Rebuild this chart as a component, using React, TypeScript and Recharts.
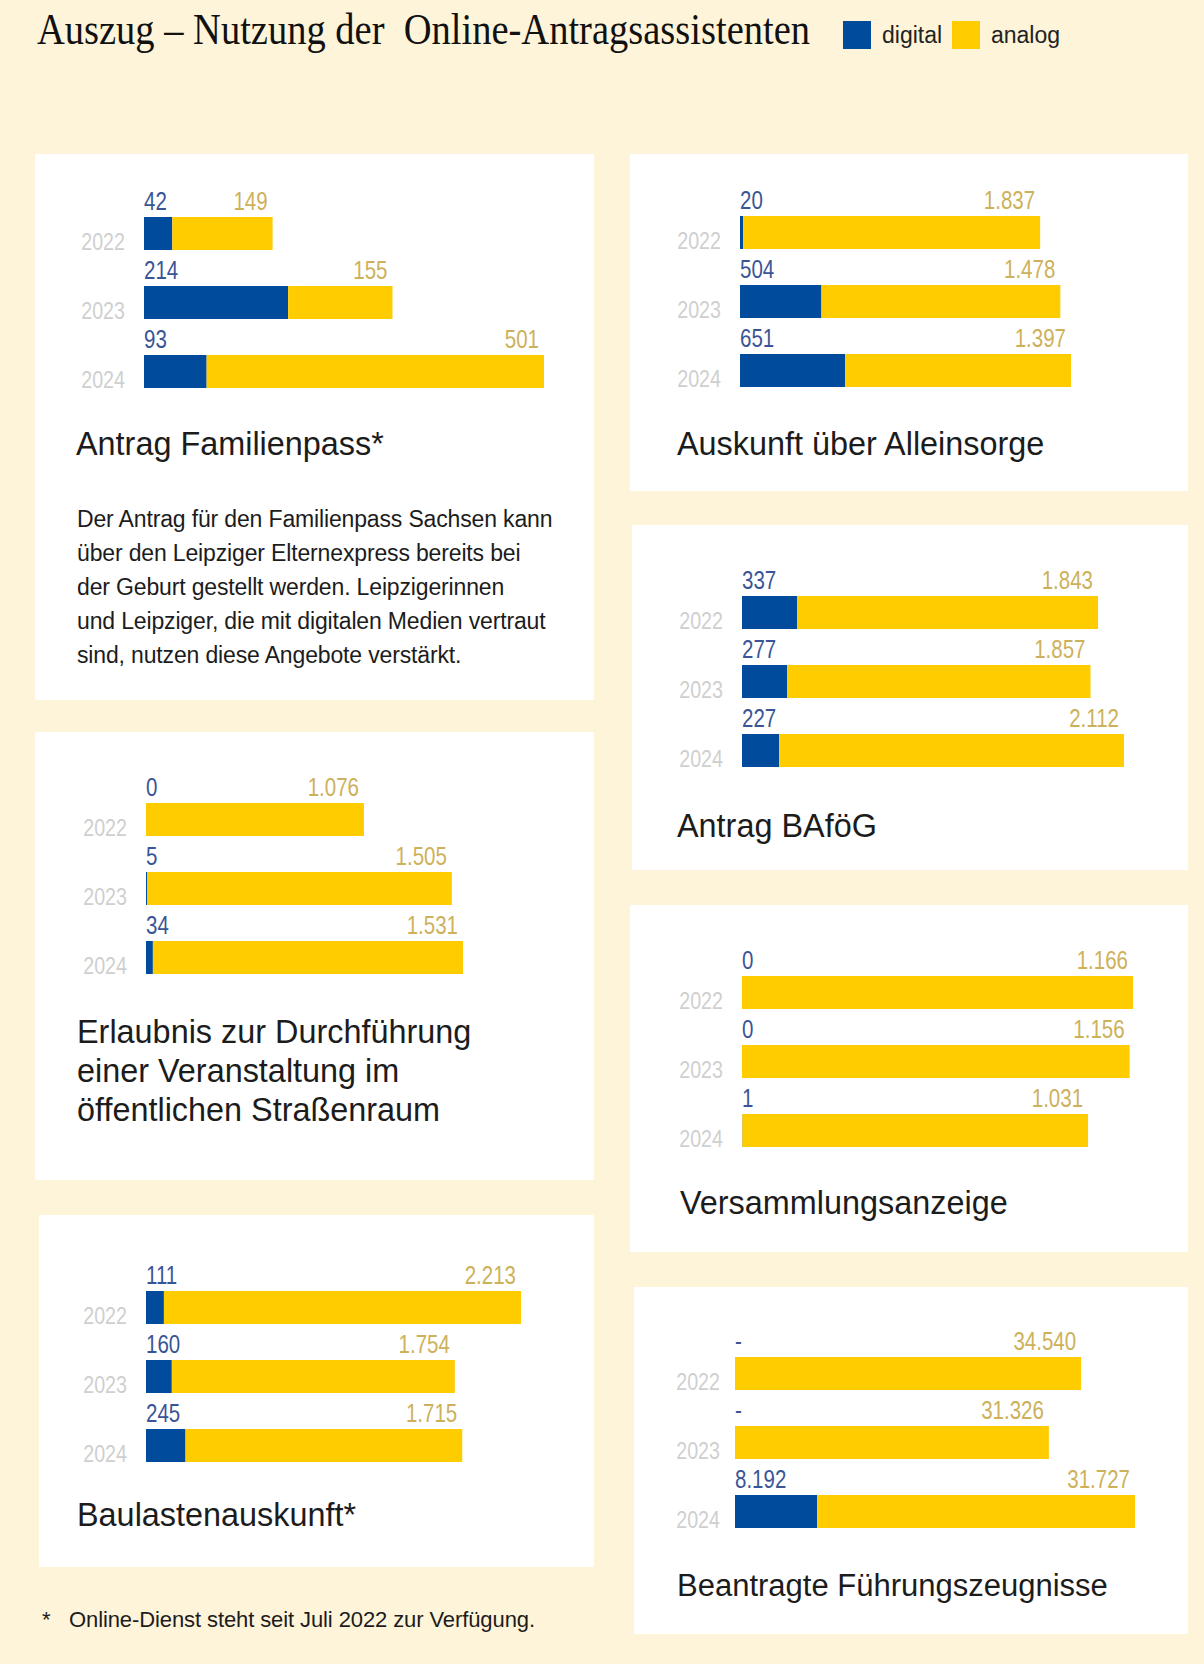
import React from "react";
import { BarChart, Bar, XAxis, YAxis, LabelList } from "recharts";

const years = ["2022", "2023", "2024"];

const familienpassDigital = [42, 214, 93];
const familienpassAnalog = [149, 155, 501];

const alleinsorgeDigital = [20, 504, 651];
const alleinsorgeAnalog = [1837, 1478, 1397];

const bafoegDigital = [337, 277, 227];
const bafoegAnalog = [1843, 1857, 2112];

const veranstaltungDigital = [0, 5, 34];
const veranstaltungAnalog = [1076, 1505, 1531];

const versammlungDigital = [0, 0, 1];
const versammlungAnalog = [1166, 1156, 1031];

const baulastenDigital = [111, 160, 245];
const baulastenAnalog = [2213, 1754, 1715];

// null = no online service yet, printed as "-"
const fuehrungDigital = [null, null, 8192];
const fuehrungAnalog = [34540, 31326, 31727];

const BLUE = "#004b9b";
const YELLOW = "#ffcc00";
const BLUE_TEXT = "#3a5596";
const GOLD_TEXT = "#cdb15a";
const YEAR_GRAY = "#cfcfcf";
const BG = "#fef4d9";
const SANS = "'Liberation Sans', Arial, sans-serif";

const BAND = 69;
const TOP_SPACE = 30;

const fmt = (v: number | null) =>
  v == null ? "-" : String(v).replace(/\B(?=(\d{3})+(?!\d))/g, ".");

function buildRows(digital: (number | null)[], analog: number[]) {
  return years.map((year, i) => ({
    year,
    digital: digital[i] ?? 0,
    analog: analog[i],
    digitalLabel: fmt(digital[i]),
    analogLabel: fmt(analog[i]),
  }));
}

const makeYearTick = (gap: number) => (props: any) => {
  const { x, y, payload } = props;
  return (
    <text
      x={0}
      y={0}
      transform={`translate(${Number(x) - gap},${Number(y) + 16}) scale(0.82,1)`}
      textAnchor="end"
      fill={YEAR_GRAY}
      fontSize={24}
      fontFamily={SANS}
    >
      {payload.value}
    </text>
  );
};

// digital value sits at the start of the stack (plot left), drawn from the analog bar
// so that zero-width digital bars still get their label
const makeDigitalLabel = (plotLeft: number) => (props: any) => {
  const { y, value } = props;
  return (
    <text
      x={0}
      y={0}
      transform={`translate(${plotLeft},${Number(y) - 7}) scale(0.82,1)`}
      fill={BLUE_TEXT}
      fontSize={25}
      fontFamily={SANS}
    >
      {value}
    </text>
  );
};

const AnalogLabel = (props: any) => {
  const { x, y, width, value } = props;
  return (
    <text
      x={0}
      y={0}
      transform={`translate(${Number(x) + Number(width) - 5},${Number(y) - 7}) scale(0.82,1)`}
      textAnchor="end"
      fill={GOLD_TEXT}
      fontSize={25}
      fontFamily={SANS}
    >
      {value}
    </text>
  );
};

interface PanelProps {
  box: { left: number; top: number; width: number; height: number };
  chartTop: number;
  barLeft: number;
  span: number;
  digital: (number | null)[];
  analog: number[];
  title: string[];
  titleLeft: number;
  titleTop: number;
  titleSize?: number;
  yearGap?: number;
}

function Panel({
  box,
  chartTop,
  barLeft,
  span,
  digital,
  analog,
  title,
  titleLeft,
  titleTop,
  titleSize = 32.4,
  yearGap = 19,
}: PanelProps) {
  const rows = buildRows(digital, analog);
  const plotWidth = span + 20;
  const axisWidth = barLeft - box.left;
  const maxTotal = Math.max(...rows.map((r) => r.digital + r.analog));
  const xMax = (maxTotal * plotWidth) / span;
  const YearTick = makeYearTick(yearGap);

  return (
    <>
      <div
        style={{
          position: "absolute",
          left: box.left,
          top: box.top,
          width: box.width,
          height: box.height,
          background: "#ffffff",
        }}
      />
      <div style={{ position: "absolute", left: box.left, top: chartTop }}>
        <BarChart
          width={axisWidth + plotWidth}
          height={TOP_SPACE + BAND * 3}
          layout="vertical"
          data={rows}
          margin={{ top: TOP_SPACE, right: 0, bottom: 0, left: 0 }}
          barCategoryGap={0}
        >
          <XAxis type="number" hide domain={[0, xMax]} />
          <YAxis
            type="category"
            dataKey="year"
            width={axisWidth}
            axisLine={false}
            tickLine={false}
            tickSize={0}
            tickMargin={0}
            tick={<YearTick />}
          />
          <Bar dataKey="digital" stackId="a" fill={BLUE} barSize={33} isAnimationActive={false} />
          <Bar dataKey="analog" stackId="a" fill={YELLOW} barSize={33} isAnimationActive={false}>
            <LabelList dataKey="digitalLabel" content={makeDigitalLabel(axisWidth)} />
            <LabelList dataKey="analogLabel" content={AnalogLabel} />
          </Bar>
        </BarChart>
      </div>
      <div
        style={{
          position: "absolute",
          left: titleLeft,
          top: titleTop,
          fontFamily: SANS,
          fontSize: titleSize,
          lineHeight: "39px",
          color: "#1c1c1c",
          whiteSpace: "nowrap",
        }}
      >
        {title.map((t) => (
          <div key={t}>{t}</div>
        ))}
      </div>
    </>
  );
}

export default function App() {
  return (
    <div
      style={{
        position: "absolute",
        left: 0,
        top: 0,
        width: 1204,
        height: 1664,
        background: BG,
        overflow: "hidden",
      }}
    >
      {/* header */}
      <div
        style={{
          position: "absolute",
          left: 37,
          top: 6,
          fontFamily: "'Liberation Serif', 'Times New Roman', serif",
          fontSize: 44,
          lineHeight: "48px",
          color: "#111",
          whiteSpace: "pre",
          transform: "scaleX(0.875)",
          transformOrigin: "left top",
        }}
      >
        {"Auszug – Nutzung der  Online-Antragsassistenten"}
      </div>
      <div style={{ position: "absolute", left: 843, top: 21, width: 28, height: 28, background: BLUE }} />
      <div
        style={{
          position: "absolute",
          left: 882,
          top: 21,
          fontFamily: SANS,
          fontSize: 23,
          lineHeight: "28px",
          color: "#222",
        }}
      >
        digital
      </div>
      <div style={{ position: "absolute", left: 952, top: 21, width: 28, height: 28, background: YELLOW }} />
      <div
        style={{
          position: "absolute",
          left: 991,
          top: 21,
          fontFamily: SANS,
          fontSize: 23,
          lineHeight: "28px",
          color: "#222",
        }}
      >
        analog
      </div>

      <Panel
        box={{ left: 35, top: 154, width: 559, height: 546 }}
        chartTop={169}
        barLeft={144}
        span={400}
        digital={familienpassDigital}
        analog={familienpassAnalog}
        title={["Antrag Familienpass*"]}
        titleLeft={76}
        titleTop={425}
      />
      <div
        style={{
          position: "absolute",
          left: 77,
          top: 502,
          width: 520,
          fontFamily: SANS,
          fontSize: 23,
          lineHeight: "34px",
          letterSpacing: -0.15,
          color: "#1c1c1c",
        }}
      >
        Der Antrag für den Familienpass Sachsen kann
        <br />
        über den Leipziger Elternexpress bereits bei
        <br />
        der Geburt gestellt werden. Leipzigerinnen
        <br />
        und Leipziger, die mit digitalen Medien vertraut
        <br />
        sind, nutzen diese Angebote verstärkt.
      </div>

      <Panel
        box={{ left: 35, top: 732, width: 559, height: 448 }}
        chartTop={755}
        barLeft={146}
        span={317}
        digital={veranstaltungDigital}
        analog={veranstaltungAnalog}
        title={["Erlaubnis zur Durchführung", "einer Veranstaltung im", "öffentlichen Straßenraum"]}
        titleLeft={77}
        titleTop={1013}
      />

      <Panel
        box={{ left: 39, top: 1215, width: 555, height: 352 }}
        chartTop={1243}
        barLeft={146}
        span={375}
        digital={baulastenDigital}
        analog={baulastenAnalog}
        title={["Baulastenauskunft*"]}
        titleLeft={77}
        titleTop={1496}
      />

      <Panel
        box={{ left: 630, top: 154, width: 558, height: 337 }}
        chartTop={168}
        barLeft={740}
        span={331}
        digital={alleinsorgeDigital}
        analog={alleinsorgeAnalog}
        title={["Auskunft über Alleinsorge"]}
        titleLeft={677}
        titleTop={425}
      />

      <Panel
        box={{ left: 632, top: 525, width: 556, height: 345 }}
        chartTop={548}
        barLeft={742}
        span={382}
        digital={bafoegDigital}
        analog={bafoegAnalog}
        title={["Antrag BAföG"]}
        titleLeft={677}
        titleTop={807}
      />

      <Panel
        box={{ left: 630, top: 905, width: 558, height: 347 }}
        chartTop={928}
        barLeft={742}
        span={391}
        digital={versammlungDigital}
        analog={versammlungAnalog}
        title={["Versammlungsanzeige"]}
        titleLeft={680}
        titleTop={1184}
      />

      <Panel
        box={{ left: 634, top: 1287, width: 554, height: 347 }}
        chartTop={1309}
        barLeft={735}
        span={400}
        digital={fuehrungDigital}
        analog={fuehrungAnalog}
        title={["Beantragte Führungszeugnisse"]}
        titleLeft={677}
        titleTop={1566}
        titleSize={31}
        yearGap={15}
      />

      {/* footnote */}
      <div
        style={{
          position: "absolute",
          left: 42,
          top: 1606,
          fontFamily: SANS,
          fontSize: 22,
          lineHeight: "28px",
          color: "#1c1c1c",
        }}
      >
        *
      </div>
      <div
        style={{
          position: "absolute",
          left: 69,
          top: 1606,
          fontFamily: SANS,
          fontSize: 22,
          lineHeight: "28px",
          color: "#1c1c1c",
          whiteSpace: "pre",
          letterSpacing: -0.1,
        }}
      >
        Online-Dienst steht seit Juli 2022 zur Verfügung.
      </div>
    </div>
  );
}
